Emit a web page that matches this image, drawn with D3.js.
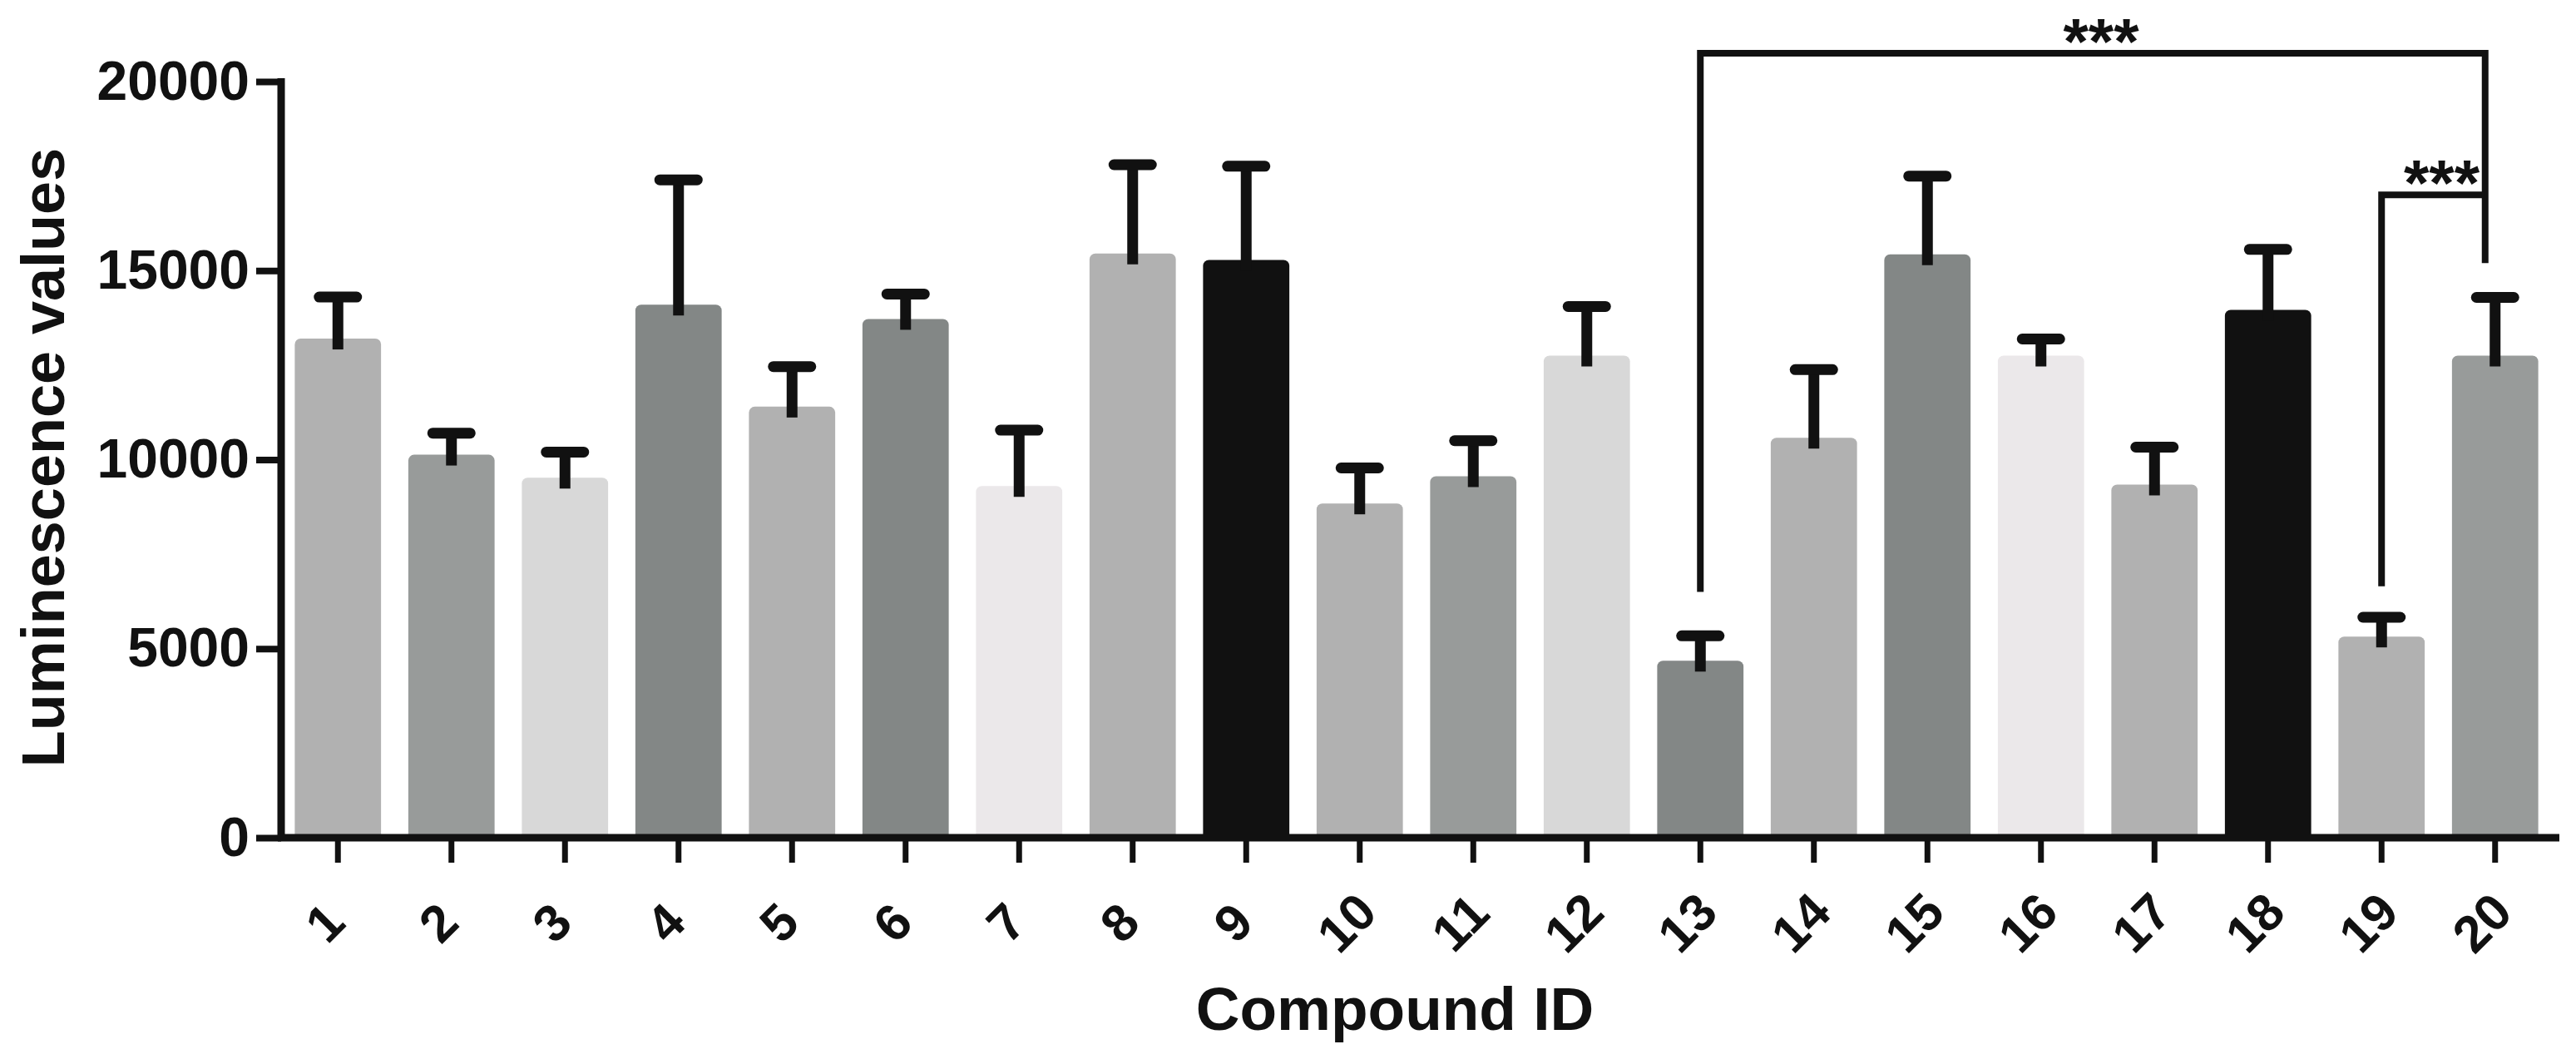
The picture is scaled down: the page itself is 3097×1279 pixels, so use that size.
<!DOCTYPE html>
<html>
<head>
<meta charset="utf-8">
<script src="https://cdn.jsdelivr.net/npm/d3@7"></script>
<style>
  body { margin: 0; background: #fff; }
  text { font-family: "Liberation Sans", Arial, sans-serif; font-weight: bold; fill: #111; }
</style>
</head>
<body>
<div id="chart"></div>
<script>
// compound ids, mean luminescence and upper error (SEM)
const compounds = ["1","2","3","4","5","6","7","8","9","10","11","12","13","14","15","16","17","18","19","20"];
const means = [13200, 10130, 9520, 14100, 11400, 13720, 9300, 15450, 15280, 8840, 9560, 12750, 4680, 10580, 15430, 12750, 9340, 13960, 5320, 12750];
const errors = [1100, 570, 680, 3300, 1060, 660, 1480, 2350, 2480, 940, 940, 1300, 660, 1800, 2070, 440, 990, 1600, 510, 1540];
const barColors = ["#b1b1b1", "#989b9a", "#d8d8d8", "#838786", "#b1b1b1", "#838786", "#ebe8ea", "#b1b1b1", "#111111", "#b1b1b1",
                   "#989b9a", "#d8d8d8", "#838786", "#b1b1b1", "#838786", "#ebe8ea", "#b1b1b1", "#111111", "#b1b1b1", "#989b9a"];
const yTicks = [0, 5000, 10000, 15000, 20000];

// significance brackets: left bar, right bar, bracket height, ends of the two legs
const brackets = [
  { from: "13", to: "20", top: 20750, leftEnd: 6500, rightEnd: 15200, label: "***" },
  { from: "19", to: "20", top: 17000, leftEnd: 6650, rightEnd: 17000, label: "***" }
];

const svgWidth = 3097, svgHeight = 1279;
const plotLeft = 338, plotRight = 3068, plotTop = 98, plotBottom = 1007;

const svg = d3.select("#chart").append("svg")
  .attr("width", svgWidth)
  .attr("height", svgHeight);

const x = d3.scaleBand()
  .domain(compounds)
  .range([plotLeft, plotRight])
  .paddingInner(0.24)
  .paddingOuter(0.12);

const y = d3.scaleLinear()
  .domain([0, 20000])
  .range([plotBottom, plotTop]);

const cx = d => x(d) + x.bandwidth() / 2;

// bars
svg.append("g").selectAll("rect")
  .data(compounds)
  .enter()
  .append("rect")
  .attr("x", d => x(d))
  .attr("y", (d, i) => y(means[i]))
  .attr("width", x.bandwidth())
  .attr("height", (d, i) => y(0) - y(means[i]) + 4)
  .attr("rx", 7)
  .attr("fill", (d, i) => barColors[i]);

// error bars (upper only)
const eb = svg.append("g").attr("stroke", "#111").attr("stroke-width", 13);
compounds.forEach((d, i) => {
  eb.append("line")
    .attr("x1", cx(d)).attr("x2", cx(d))
    .attr("y1", y(means[i]) + 13)
    .attr("y2", y(means[i] + errors[i]));
  eb.append("line")
    .attr("x1", cx(d) - 22.5).attr("x2", cx(d) + 22.5)
    .attr("y1", y(means[i] + errors[i]))
    .attr("y2", y(means[i] + errors[i]))
    .attr("stroke-linecap", "round");
});

// y axis
const yAxis = svg.append("g")
  .attr("transform", `translate(${plotLeft},0)`)
  .call(d3.axisLeft(y).tickValues(yTicks).tickSize(30).tickPadding(8).tickFormat(d3.format("d")));
yAxis.select(".domain").remove();
yAxis.selectAll(".tick line").attr("stroke", "#111").attr("stroke-width", 8);
yAxis.selectAll(".tick text")
  .attr("font-size", 66)
  .attr("font-family", "Liberation Sans, Arial, sans-serif")
  .attr("font-weight", "bold")
  .attr("fill", "#111");
svg.append("line")
  .attr("x1", plotLeft).attr("x2", plotLeft)
  .attr("y1", plotTop - 4).attr("y2", plotBottom + 4)
  .attr("stroke", "#111").attr("stroke-width", 9);

// x axis
const xAxis = svg.append("g")
  .attr("transform", `translate(0,${plotBottom})`)
  .call(d3.axisBottom(x).tickSize(30).tickPadding(0));
xAxis.select(".domain").remove();
xAxis.selectAll(".tick line").attr("stroke", "#111").attr("stroke-width", 7);
xAxis.selectAll(".tick text")
  .attr("font-size", 62)
  .attr("font-family", "Liberation Sans, Arial, sans-serif")
  .attr("font-weight", "bold")
  .attr("fill", "#111")
  .attr("text-anchor", "middle")
  .attr("dy", "0.35em")
  .attr("transform", "translate(-16,102) rotate(-45)")
  .attr("y", 0);
svg.append("line")
  .attr("x1", plotLeft - 4).attr("x2", 3077)
  .attr("y1", plotBottom).attr("y2", plotBottom)
  .attr("stroke", "#111").attr("stroke-width", 9);

// significance brackets
brackets.forEach(b => {
  const x1 = cx(b.from), x2 = cx(b.to) - 12;
  svg.append("path")
    .attr("d", `M${x1},${y(b.leftEnd)}V${y(b.top)}H${x2}V${y(b.rightEnd)}`)
    .attr("fill", "none")
    .attr("stroke", "#111")
    .attr("stroke-width", 8);
  svg.append("text")
    .attr("x", (x1 + x2) / 2 + 10)
    .attr("y", y(b.top) + 13)
    .attr("text-anchor", "middle")
    .attr("font-size", 78)
    .text(b.label);
});

// axis titles
svg.append("text")
  .attr("transform", "translate(77,550) rotate(-90)")
  .attr("text-anchor", "middle")
  .attr("font-size", 72)
  .text("Luminescence values");

svg.append("text")
  .attr("x", 1677)
  .attr("y", 1238)
  .attr("text-anchor", "middle")
  .attr("font-size", 73)
  .text("Compound ID");
</script>
</body>
</html>
